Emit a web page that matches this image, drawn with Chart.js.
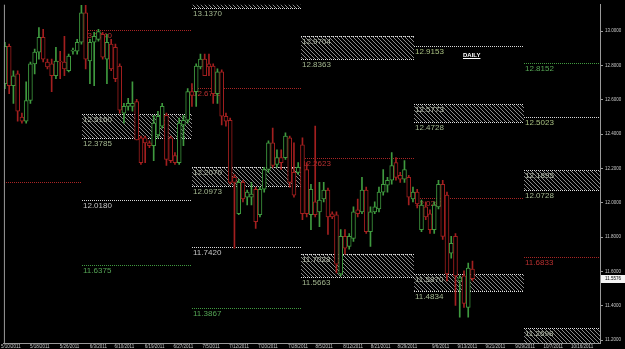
<!DOCTYPE html>
<html>
<head>
<meta charset="UTF-8">
<title>Daily</title>
<script src="https://cdn.jsdelivr.net/npm/chart.js"></script>
<style>
  html, body { margin: 0; padding: 0; background: #000; overflow: hidden; }
</style>
</head>
<body>
<canvas id="c" width="625" height="349"></canvas>
<script>
// daily candles, one per bar index
const openP = [
  12.694, 12.912, 12.682, 12.751, 12.499, 12.476, 12.596, 12.809, 12.878, 12.964,
  12.820, 12.809, 12.740, 12.826, 12.820, 12.769, 12.883, 12.883, 12.935, 13.107,
  12.826, 12.935, 12.952, 12.981, 12.837, 12.924, 12.906, 12.797, 12.522, 12.562,
  12.562, 12.590, 12.378, 12.378, 12.349, 12.332, 12.395, 12.447, 12.510, 12.378,
  12.275, 12.234, 12.453, 12.481, 12.648, 12.648, 12.792, 12.837, 12.809, 12.797,
  12.636, 12.763, 12.504, 12.481, 12.148, 11.936, 12.119, 12.033, 12.033, 12.079,
  11.930, 12.079, 12.194, 12.349, 12.223, 12.263, 12.263, 12.378, 12.177, 12.177,
  12.338, 12.194, 11.930, 12.005, 11.947, 12.022, 12.074, 11.936, 11.930, 11.585,
  11.804, 11.746, 11.792, 11.959, 11.947, 12.074, 11.832, 11.947, 11.964, 12.062,
  12.102, 12.131, 12.234, 12.160, 12.137, 12.148, 12.022, 12.062, 11.844, 11.976,
  11.936, 11.844, 11.976, 12.108, 12.045, 11.706, 11.804, 11.545, 11.574, 11.390,
  11.614
];
const highP = [
  12.935, 12.924, 12.769, 12.769, 12.522, 12.705, 12.820, 12.895, 13.021, 13.010,
  12.837, 12.837, 12.906, 12.883, 12.970, 12.866, 12.901, 12.952, 13.150, 13.150,
  12.952, 12.993, 13.010, 12.993, 12.981, 12.952, 12.924, 12.809, 12.579, 12.608,
  12.705, 12.602, 12.389, 12.389, 12.361, 12.510, 12.533, 12.579, 12.522, 12.389,
  12.292, 12.493, 12.510, 12.665, 12.694, 12.809, 12.866, 12.866, 12.866, 12.809,
  12.780, 12.774, 12.522, 12.493, 12.165, 12.137, 12.131, 12.074, 12.119, 12.091,
  12.091, 12.206, 12.361, 12.435, 12.309, 12.309, 12.407, 12.389, 12.349, 12.234,
  12.378, 12.234, 12.108, 12.447, 12.119, 12.119, 12.085, 11.947, 11.947, 11.844,
  11.844, 11.821, 11.976, 12.022, 12.148, 12.091, 11.976, 12.005, 12.091, 12.194,
  12.148, 12.292, 12.263, 12.177, 12.246, 12.160, 12.091, 12.079, 12.016, 12.005,
  11.959, 12.005, 12.131, 12.131, 12.062, 11.804, 11.821, 11.574, 11.603, 11.648,
  11.660
];
const lowP = [
  12.665, 12.636, 12.579, 12.476, 12.464, 12.464, 12.579, 12.751, 12.837, 12.820,
  12.780, 12.648, 12.723, 12.723, 12.740, 12.763, 12.866, 12.866, 12.924, 12.780,
  12.694, 12.682, 12.941, 12.837, 12.694, 12.769, 12.705, 12.522, 12.464, 12.539,
  12.533, 12.366, 12.223, 12.234, 12.321, 12.246, 12.378, 12.435, 12.217, 12.234,
  12.223, 12.223, 12.332, 12.464, 12.562, 12.562, 12.780, 12.740, 12.740, 12.579,
  12.579, 12.453, 12.447, 12.108, 11.735, 11.930, 12.005, 11.987, 11.987, 11.850,
  11.918, 12.062, 12.177, 12.206, 12.206, 12.194, 12.252, 12.091, 12.033, 12.165,
  11.901, 11.918, 11.844, 11.918, 11.861, 12.005, 11.815, 11.907, 11.591, 11.574,
  11.700, 11.729, 11.775, 11.918, 11.936, 11.821, 11.746, 11.936, 11.947, 12.045,
  12.062, 12.108, 12.131, 12.119, 12.119, 11.987, 12.005, 11.970, 11.832, 11.901,
  11.821, 11.821, 11.964, 11.786, 11.545, 11.677, 11.402, 11.333, 11.390, 11.333,
  11.545
];
const closeP = [
  12.912, 12.682, 12.740, 12.533, 12.476, 12.596, 12.809, 12.878, 12.964, 12.837,
  12.792, 12.740, 12.826, 12.820, 12.780, 12.855, 12.889, 12.935, 13.107, 12.837,
  12.935, 12.970, 12.998, 12.849, 12.935, 12.780, 12.723, 12.539, 12.562, 12.579,
  12.579, 12.366, 12.234, 12.349, 12.332, 12.464, 12.504, 12.562, 12.252, 12.246,
  12.234, 12.464, 12.481, 12.648, 12.625, 12.797, 12.837, 12.740, 12.792, 12.636,
  12.763, 12.504, 12.476, 12.119, 12.119, 12.119, 12.022, 12.062, 12.051, 11.890,
  12.079, 12.194, 12.349, 12.217, 12.263, 12.234, 12.389, 12.119, 12.045, 12.206,
  11.936, 11.936, 12.079, 11.930, 12.016, 12.074, 11.918, 11.918, 11.643, 11.804,
  11.735, 11.804, 11.947, 11.936, 12.074, 11.832, 11.947, 11.976, 12.062, 12.108,
  12.131, 12.217, 12.148, 12.137, 12.194, 12.033, 12.062, 11.993, 11.987, 11.918,
  11.844, 11.987, 12.108, 11.804, 11.585, 11.763, 11.574, 11.562, 11.413, 11.620,
  11.5576
];

// axis labels
const xTickLabels = ['5/10/2011', '5/18/2011', '5/26/2011', '6/3/2011', '6/10/2011', '6/19/2011',
  '6/27/2011', '7/5/2011', '7/12/2011', '7/20/2011', '7/28/2011', '8/5/2011', '8/12/2011',
  '8/21/2011', '8/29/2011', '9/6/2011', '9/13/2011', '9/21/2011', '9/29/2011', '10/7/2011', '10/16/2011'];
const xTickAt = [1.4, 8.2, 15.2, 22.0, 28.1, 35.2, 42.0, 48.5, 55.1, 61.9, 69.0,
  75.1, 81.9, 88.4, 94.7, 102.5, 108.8, 115.4, 122.4, 129.0, 135.8];
const yTicks = [11.2, 11.4, 11.6, 11.8, 12.0, 12.2, 12.4, 12.6, 12.8, 13.0];

// monthly levels: month edges in bar index, then lines and zones per month
const monthEdges = [-20, 18.1, 43.9, 69.7, 96.2, 122.2, 160];
const levelMonth = [0, 1, 1, 1, 2, 2, 2, 3, 4, 4, 5, 5, 5];
const levelValue = [12.1195, 13.0040, 12.0180, 11.6375, 12.6703, 11.7420, 11.3867,
  12.2623, 12.9153, 12.0283, 12.8152, 12.5023, 11.6833];
const levelKind = ['R', 'R', 'W', 'G', 'R', 'W', 'G', 'R', 'Y', 'R', 'G', 'Y', 'R'];
const zoneMonth = [1, 2, 2, 3, 3, 4, 4, 5, 5];
const zoneTop = [12.5160, 13.2800, 12.2070, 12.9704, 11.7028, 12.5773, 11.5870, 12.1895, 11.2698];
const zoneBottom = [12.3785, 13.1370, 12.0973, 12.8363, 11.5663, 12.4728, 11.4834, 12.0728, 11.1200];

const GREEN = '#3f9a3f', RED = '#a31f1f';
const kindStyle = {
  R: { line: '#a82424', text: '#b83030' },
  W: { line: '#d8d8d8', text: '#c4c4c4' },
  Y: { line: '#d8d8d8', text: '#a8c080' },
  G: { line: '#3f9a3f', text: '#55a555' }
};

const candleColor = openP.map((o, i) => closeP[i] >= o ? GREEN : RED);

const hatch = (() => {
  const c = document.createElement('canvas');
  c.width = 4; c.height = 4;
  const g = c.getContext('2d');
  g.strokeStyle = '#8a8a8a';
  g.lineWidth = 1;
  g.beginPath();
  for (const k of [-4, 0, 4]) { g.moveTo(k, 0); g.lineTo(k + 4, 4); }
  g.stroke();
  return c;
})();

function dotted(ctx, x0, x1, yp, color) {
  ctx.strokeStyle = color;
  ctx.lineWidth = 1;
  ctx.setLineDash([1, 1]);
  ctx.beginPath();
  const y = Math.round(yp) + 0.5;
  ctx.moveTo(x0, y);
  ctx.lineTo(x1, y);
  ctx.stroke();
  ctx.setLineDash([]);
}

const overlay = {
  id: 'overlay',
  beforeDraw(chart) {
    const ctx = chart.ctx;
    ctx.save();
    ctx.fillStyle = '#000';
    ctx.fillRect(0, 0, chart.width, chart.height);
    ctx.restore();
  },
  beforeDatasetsDraw(chart) {
    const { ctx, chartArea: a, scales: { x, y } } = chart;
    ctx.save();
    ctx.beginPath();
    ctx.rect(a.left, a.top, a.right - a.left, a.bottom - a.top);
    ctx.clip();
    ctx.font = '8px "Liberation Sans"';
    ctx.textBaseline = 'top';
    const pat = ctx.createPattern(hatch, 'repeat');

    zoneMonth.forEach((m, i) => {
      const x0 = Math.round(x.getPixelForValue(monthEdges[m]));
      const x1 = Math.round(x.getPixelForValue(monthEdges[m + 1]));
      const yt = Math.round(y.getPixelForValue(zoneTop[i]));
      const yb = Math.round(y.getPixelForValue(zoneBottom[i]));
      ctx.fillStyle = pat;
      ctx.fillRect(x0, yt, x1 - x0, yb - yt);
      dotted(ctx, x0, x1, yt, '#e0e0e0');
      dotted(ctx, x0, x1, yb, '#e0e0e0');
      ctx.fillStyle = '#b5bdaa';
      ctx.fillText(zoneTop[i].toFixed(4), x0 + 1, yt + 2);
      ctx.fillStyle = '#a4b890';
      ctx.fillText(zoneBottom[i].toFixed(4), x0 + 1, yb + 2);
    });

    levelMonth.forEach((m, i) => {
      const st = kindStyle[levelKind[i]];
      const x0 = Math.round(x.getPixelForValue(monthEdges[m]));
      const x1 = Math.round(x.getPixelForValue(monthEdges[m + 1]));
      const yp = y.getPixelForValue(levelValue[i]);
      dotted(ctx, x0, x1, yp, st.line);
      ctx.fillStyle = st.text;
      ctx.fillText(levelValue[i].toFixed(4), x0 + 1, Math.round(yp) + 2);
    });
    ctx.restore();
  },
  afterDraw(chart) {
    const { ctx, chartArea: a, scales: { y } } = chart;
    ctx.save();
    // left frame
    ctx.strokeStyle = '#9a9a9a';
    ctx.lineWidth = 1;
    ctx.beginPath();
    ctx.moveTo(a.left + 0.5, a.top);
    ctx.lineTo(a.left + 0.5, a.bottom);
    ctx.stroke();

    // chart title
    ctx.fillStyle = '#fff';
    ctx.font = 'bold 6px "Liberation Sans"';
    ctx.textBaseline = 'top';
    ctx.fillText('DAILY', 463, 52);
    ctx.fillRect(463, 58, ctx.measureText('DAILY').width, 1);

    // last price marker
    const last = closeP[closeP.length - 1];
    const yp = Math.round(y.getPixelForValue(last));
    ctx.fillStyle = '#f4f4f4';
    ctx.fillRect(a.right + 1, yp - 4, 24, 8);
    ctx.fillStyle = '#000';
    ctx.font = '4.5px "Liberation Sans"';
    ctx.textBaseline = 'middle';
    ctx.fillText(last.toFixed(4), a.right + 5, yp);
    ctx.restore();
  }
};

new Chart(document.getElementById('c'), {
  type: 'bar',
  data: {
    datasets: [
      {
        label: 'body',
        data: openP.map((o, i) => ({ x: i, y: [o, closeP[i]] })),
        backgroundColor: '#000',
        borderColor: candleColor,
        borderWidth: 1,
        borderSkipped: false,
        barThickness: 4,
        grouped: false,
        order: 0
      },
      {
        label: 'wick',
        data: lowP.map((l, i) => ({ x: i, y: [l, highP[i]] })),
        backgroundColor: candleColor,
        barThickness: 1,
        grouped: false,
        order: 1
      }
    ]
  },
  options: {
    responsive: false,
    animation: false,
    layout: { padding: { left: 2, top: 0, right: 0, bottom: 0 } },
    plugins: { legend: { display: false }, tooltip: { enabled: false } },
    scales: {
      x: {
        type: 'linear',
        min: -0.235,
        max: 140,
        offset: false,
        grid: { display: false, drawTicks: false, offset: false },
        border: { display: true, color: '#9a9a9a' },
        afterBuildTicks: s => { s.ticks = xTickAt.map(v => ({ value: v })); },
        afterFit: s => { s.height = 6; },
        ticks: {
          autoSkip: false,
          maxRotation: 0,
          padding: 1,
          color: '#c8c8c8',
          font: { size: 4.5, family: 'Liberation Sans' },
          callback: (v, i) => xTickLabels[i]
        }
      },
      y: {
        position: 'right',
        min: 11.183,
        max: 13.154,
        afterBuildTicks: s => { s.ticks = yTicks.map(v => ({ value: v })); },
        afterFit: s => { s.width = 25; },
        grid: { drawOnChartArea: false, tickLength: 3, color: '#9a9a9a' },
        border: { color: '#9a9a9a' },
        ticks: {
          padding: 2,
          color: '#c8c8c8',
          font: { size: 4.5, family: 'Liberation Sans' },
          callback: v => v.toFixed(4)
        }
      }
    }
  },
  plugins: [overlay]
});
</script>
</body>
</html>
